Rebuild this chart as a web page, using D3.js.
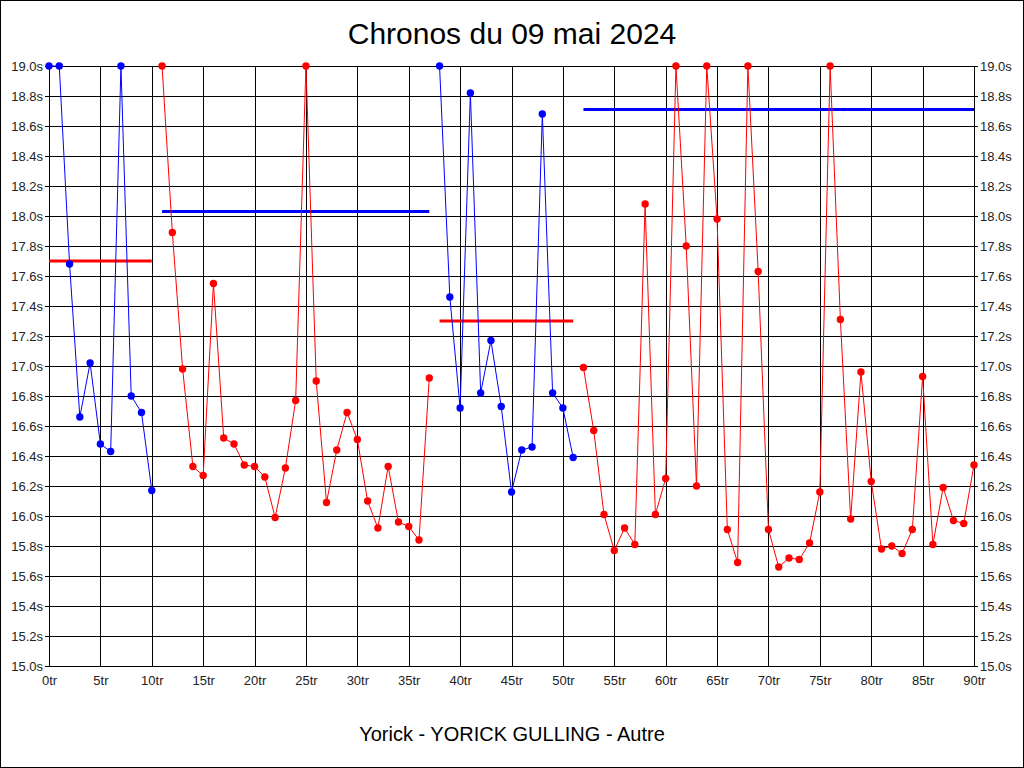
<!DOCTYPE html>
<html>
<head>
<meta charset="utf-8">
<script src="https://cdn.jsdelivr.net/npm/d3@7"></script>
<style>
    body { margin: 0; background: #fff; }
    svg { display: block; font-family: "Liberation Sans", Arial, sans-serif; }
</style>
</head>
<body>
<div id="chart"></div>
<script>
// Lap times (s), one per lap from 0tr to 90tr
const lapTimes = [
    19.0, 19.0, 17.68, 16.66, 17.02, 16.48, 16.43, 19.0, 16.80, 16.69, 16.17,
    19.0, 17.89, 16.98, 16.33, 16.27, 17.55, 16.52, 16.48, 16.34, 16.33,
    16.26, 15.99, 16.32, 16.77, 19.0, 16.90, 16.09, 16.44, 16.69, 16.51,
    16.10, 15.92, 16.33, 15.96, 15.93, 15.84, 16.92,
    19.0, 17.46, 16.72, 18.82, 16.82, 17.17, 16.73, 16.16, 16.44, 16.46,
    18.68, 16.82, 16.72, 16.39,
    16.99, 16.57, 16.01, 15.77, 15.92, 15.81, 18.08, 16.01, 16.25, 19.0,
    17.80, 16.20, 19.0, 17.98, 15.91, 15.69, 19.0, 17.63, 15.91, 15.66,
    15.72, 15.71, 15.82, 16.16, 19.0, 17.31, 15.98, 16.96, 16.23, 15.78,
    15.80, 15.75, 15.91, 16.93, 15.81, 16.19, 15.97, 15.95, 16.34
];

// Stints: first and last lap, colour of the points and of the mean line
const stintStart = [0, 11, 38, 52];
const stintEnd = [10, 37, 51, 90];
const stintColor = ['#0000ff', '#ff0000', '#0000ff', '#ff0000'];
const meanColor = ['#ff0000', '#0000ff', '#ff0000', '#0000ff'];
const stintMean = [17.70, 18.03, 17.30, 18.71];

const xTicks = d3.range(0, 91, 5);
const yTicks = d3.range(15.0, 19.01, 0.2);

const title = 'Chronos du 09 mai 2024';
const footer = 'Yorick - YORICK GULLING - Autre';

// Dimensions
const W = 1024, H = 768;
const margin = { top: 66, right: 50, bottom: 102, left: 49 };
const width = W - margin.left - margin.right;
const height = H - margin.top - margin.bottom;

const svg = d3.select('#chart')
    .append('svg')
    .attr('width', W)
    .attr('height', H);

svg.append('rect')
    .attr('x', 0.5).attr('y', 0.5)
    .attr('width', W - 1).attr('height', H - 1)
    .attr('fill', '#fff')
    .attr('stroke', '#000');

const g = svg.append('g')
    .attr('transform', `translate(${margin.left}, ${margin.top})`);

const xScale = d3.scaleLinear().domain([0, 90]).range([0, width]);
const yScale = d3.scaleLinear().domain([15, 19]).range([height, 0]);

// Grid
g.append('g')
    .selectAll('line')
    .data(yTicks)
    .enter()
    .append('line')
    .attr('x1', 0).attr('x2', width)
    .attr('y1', d => Math.round(yScale(d)) + 0.5)
    .attr('y2', d => Math.round(yScale(d)) + 0.5)
    .attr('stroke', '#000');

g.append('g')
    .selectAll('line')
    .data(xTicks)
    .enter()
    .append('line')
    .attr('x1', d => Math.round(xScale(d)) + 0.5)
    .attr('x2', d => Math.round(xScale(d)) + 0.5)
    .attr('y1', 0).attr('y2', height)
    .attr('stroke', '#000');

// Axes
const yLeft = d3.axisLeft(yScale).tickValues(yTicks).tickSize(4).tickPadding(2)
    .tickFormat(d => d3.format('.1f')(d) + 's');
const yRight = d3.axisRight(yScale).tickValues(yTicks).tickSize(4).tickPadding(2)
    .tickFormat(d => d3.format('.1f')(d) + 's');
const xAxis = d3.axisBottom(xScale).tickValues(xTicks).tickSize(0).tickPadding(10)
    .tickFormat(d => d + 'tr');

const styleAxis = sel => {
    sel.select('.domain').remove();
    sel.selectAll('text')
        .attr('font-size', 13)
        .attr('font-family', '"Liberation Sans", Arial, sans-serif')
        .attr('fill', '#222');
    sel.selectAll('line').attr('stroke', '#000');
};

g.append('g').call(yLeft).call(styleAxis);
g.append('g').attr('transform', `translate(${width}, 0)`).call(yRight).call(styleAxis);
g.append('g').attr('transform', `translate(0, ${height})`).call(xAxis).call(styleAxis);

// Frame of the plot
g.append('rect')
    .attr('x', 0.5).attr('y', 0.5)
    .attr('width', width).attr('height', height)
    .attr('fill', 'none')
    .attr('stroke', '#000');

// Mean line of each stint
g.append('g')
    .selectAll('line')
    .data(stintMean)
    .enter()
    .append('line')
    .attr('x1', (d, i) => xScale(stintStart[i]))
    .attr('x2', (d, i) => xScale(stintEnd[i]))
    .attr('y1', d => yScale(d))
    .attr('y2', d => yScale(d))
    .attr('stroke', (d, i) => meanColor[i])
    .attr('stroke-width', 3);

// Stints: line + points
const line = d3.line()
    .x(d => xScale(d.lap))
    .y(d => yScale(d.time));

stintStart.forEach((start, i) => {
    const pts = d3.range(start, stintEnd[i] + 1).map(lap => ({ lap, time: lapTimes[lap] }));
    g.append('path')
        .datum(pts)
        .attr('d', line)
        .attr('fill', 'none')
        .attr('stroke', stintColor[i])
        .attr('stroke-width', 1);
    g.append('g')
        .selectAll('circle')
        .data(pts)
        .enter()
        .append('circle')
        .attr('cx', d => xScale(d.lap))
        .attr('cy', d => yScale(d.time))
        .attr('r', 3.7)
        .attr('fill', stintColor[i]);
});

// Titles
svg.append('text')
    .attr('x', 512).attr('y', 44)
    .attr('text-anchor', 'middle')
    .attr('font-size', 30)
    .text(title);

svg.append('text')
    .attr('x', 512).attr('y', 741)
    .attr('text-anchor', 'middle')
    .attr('font-size', 20)
    .text(footer);
</script>
</body>
</html>
